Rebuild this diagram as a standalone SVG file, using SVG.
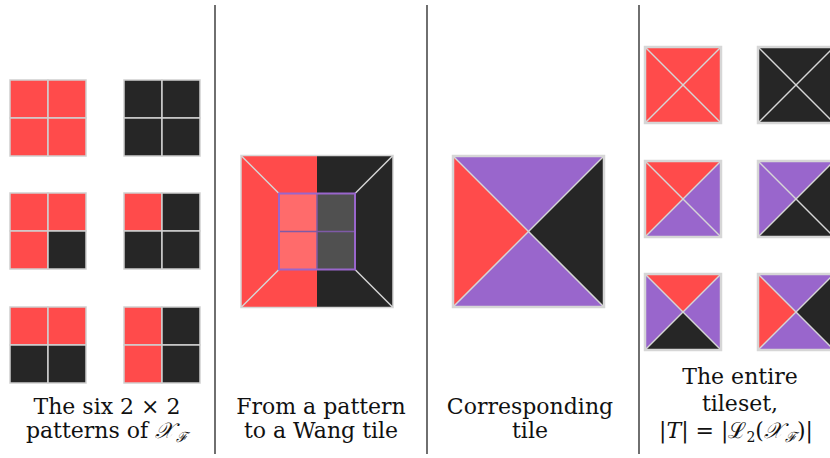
<svg xmlns="http://www.w3.org/2000/svg" width="830" height="458" viewBox="0 0 830 458">
<style>
.r{fill:#FF4B4B}
.k{fill:#262626}
.p{fill:#9966CC}
.cell{stroke:#CFCFCF;stroke-width:1.5}
.diag{stroke:#D6D6D6;stroke-width:1.5;fill:none}
.frame{fill:none;stroke:#D6D6D6;stroke-width:2.5}
.div{stroke:#222;stroke-width:1.3}
text{font-family:"DejaVu Serif","Liberation Serif",serif;font-size:22px;fill:#111;text-anchor:middle}
.m{font-style:italic}
</style>
<defs>
<g id="diagT">
<line class="diag" x1="0" y1="0" x2="76" y2="76"/>
<line class="diag" x1="76" y1="0" x2="0" y2="76"/>
<rect class="frame" x="0" y="0" width="76" height="76"/>
</g>
</defs>
<rect width="830" height="458" fill="#fff"/>
<g id="dividers">
<line class="div" x1="215" y1="5" x2="215" y2="454"/>
<line class="div" x1="427" y1="5" x2="427" y2="454"/>
<line class="div" x1="639" y1="5" x2="639" y2="454"/>
</g>
<g id="pattern1" transform="translate(10,80)">
<rect class="r cell" x="0" y="0" width="38" height="38"/><rect class="r cell" x="38" y="0" width="38" height="38"/>
<rect class="r cell" x="0" y="38" width="38" height="38"/><rect class="r cell" x="38" y="38" width="38" height="38"/>
</g>
<g id="pattern2" transform="translate(124,80)">
<rect class="k cell" x="0" y="0" width="38" height="38"/><rect class="k cell" x="38" y="0" width="38" height="38"/>
<rect class="k cell" x="0" y="38" width="38" height="38"/><rect class="k cell" x="38" y="38" width="38" height="38"/>
</g>
<g id="pattern3" transform="translate(10,193)">
<rect class="r cell" x="0" y="0" width="38" height="38"/><rect class="r cell" x="38" y="0" width="38" height="38"/>
<rect class="r cell" x="0" y="38" width="38" height="38"/><rect class="k cell" x="38" y="38" width="38" height="38"/>
</g>
<g id="pattern4" transform="translate(124,193)">
<rect class="r cell" x="0" y="0" width="38" height="38"/><rect class="k cell" x="38" y="0" width="38" height="38"/>
<rect class="k cell" x="0" y="38" width="38" height="38"/><rect class="k cell" x="38" y="38" width="38" height="38"/>
</g>
<g id="pattern5" transform="translate(10,307)">
<rect class="r cell" x="0" y="0" width="38" height="38"/><rect class="r cell" x="38" y="0" width="38" height="38"/>
<rect class="k cell" x="0" y="38" width="38" height="38"/><rect class="k cell" x="38" y="38" width="38" height="38"/>
</g>
<g id="pattern6" transform="translate(124,307)">
<rect class="r cell" x="0" y="0" width="38" height="38"/><rect class="k cell" x="38" y="0" width="38" height="38"/>
<rect class="r cell" x="0" y="38" width="38" height="38"/><rect class="k cell" x="38" y="38" width="38" height="38"/>
</g>
<g id="pattern-to-wang">
<rect class="r" x="241" y="155.5" width="76" height="152"/>
<rect class="k" x="317" y="155.5" width="76" height="152"/>
<line class="diag" x1="241" y1="155.5" x2="279" y2="193.5"/>
<line class="diag" x1="393" y1="155.5" x2="355" y2="193.5"/>
<line class="diag" x1="241" y1="307.5" x2="279" y2="269.5"/>
<line class="diag" x1="393" y1="307.5" x2="355" y2="269.5"/>
<rect x="241" y="155.5" width="152" height="152" fill="none" stroke="#D6D6D6" stroke-width="1.5"/>
<rect x="279" y="193.5" width="38" height="76" fill="#FF6B6B"/>
<rect x="317" y="193.5" width="38" height="76" fill="#505050"/>
<line x1="279" y1="231.5" x2="355" y2="231.5" stroke="#7E5AA6" stroke-width="1.5"/>
<line x1="317" y1="193.5" x2="317" y2="269.5" stroke="#7E5AA6" stroke-width="1.5"/>
<rect x="279" y="193.5" width="76" height="76" fill="none" stroke="#9966CC" stroke-width="2"/>
</g>
<g id="corresponding-tile">
<polygon class="p" points="453,156 604,156 528.5,231.5"/>
<polygon class="r" points="453,156 453,307 528.5,231.5"/>
<polygon class="k" points="604,156 604,307 528.5,231.5"/>
<polygon class="p" points="453,307 604,307 528.5,231.5"/>
<line class="diag" x1="453" y1="156" x2="604" y2="307" stroke-width="2"/>
<line class="diag" x1="604" y1="156" x2="453" y2="307" stroke-width="2"/>
<rect class="frame" x="453" y="156" width="151" height="151"/>
</g>
<g id="tile1" transform="translate(645,47)">
<rect class="r" width="76" height="76"/><use href="#diagT"/>
</g>
<g id="tile2" transform="translate(758,47)">
<rect class="k" width="76" height="76"/><use href="#diagT"/>
</g>
<g id="tile3" transform="translate(645,161)">
<polygon class="r" points="0,0 76,0 38,38"/><polygon class="r" points="0,0 0,76 38,38"/>
<polygon class="p" points="76,0 76,76 38,38"/><polygon class="p" points="0,76 76,76 38,38"/>
<use href="#diagT"/>
</g>
<g id="tile4" transform="translate(758,161)">
<polygon class="p" points="0,0 76,0 38,38"/><polygon class="p" points="0,0 0,76 38,38"/>
<polygon class="k" points="76,0 76,76 38,38"/><polygon class="k" points="0,76 76,76 38,38"/>
<use href="#diagT"/>
</g>
<g id="tile5" transform="translate(645,274)">
<polygon class="r" points="0,0 76,0 38,38"/><polygon class="p" points="0,0 0,76 38,38"/>
<polygon class="p" points="76,0 76,76 38,38"/><polygon class="k" points="0,76 76,76 38,38"/>
<use href="#diagT"/>
</g>
<g id="tile6" transform="translate(758,274)">
<polygon class="p" points="0,0 76,0 38,38"/><polygon class="r" points="0,0 0,76 38,38"/>
<polygon class="k" points="76,0 76,76 38,38"/><polygon class="p" points="0,76 76,76 38,38"/>
<use href="#diagT"/>
</g>
<g id="labels">
<text x="107" y="414">The six 2 × 2</text>
<text x="107" y="438">patterns of <tspan class="m">𝒳</tspan><tspan font-size="14" dy="4" dx="2" class="m">ℱ</tspan></text>
<text x="321" y="414">From a pattern</text>
<text x="321" y="438">to a Wang tile</text>
<text x="530" y="414">Corresponding</text>
<text x="530" y="438">tile</text>
<text x="740" y="384">The entire</text>
<text x="740" y="411">tileset,</text>
<text x="736" y="438">|<tspan class="m">T</tspan>| = |ℒ<tspan font-size="14" dy="4">2</tspan><tspan dy="-4">(</tspan><tspan class="m">𝒳</tspan><tspan font-size="14" dy="4" dx="2" class="m">ℱ</tspan><tspan dy="-4">)|</tspan></text>
</g>
</svg>
